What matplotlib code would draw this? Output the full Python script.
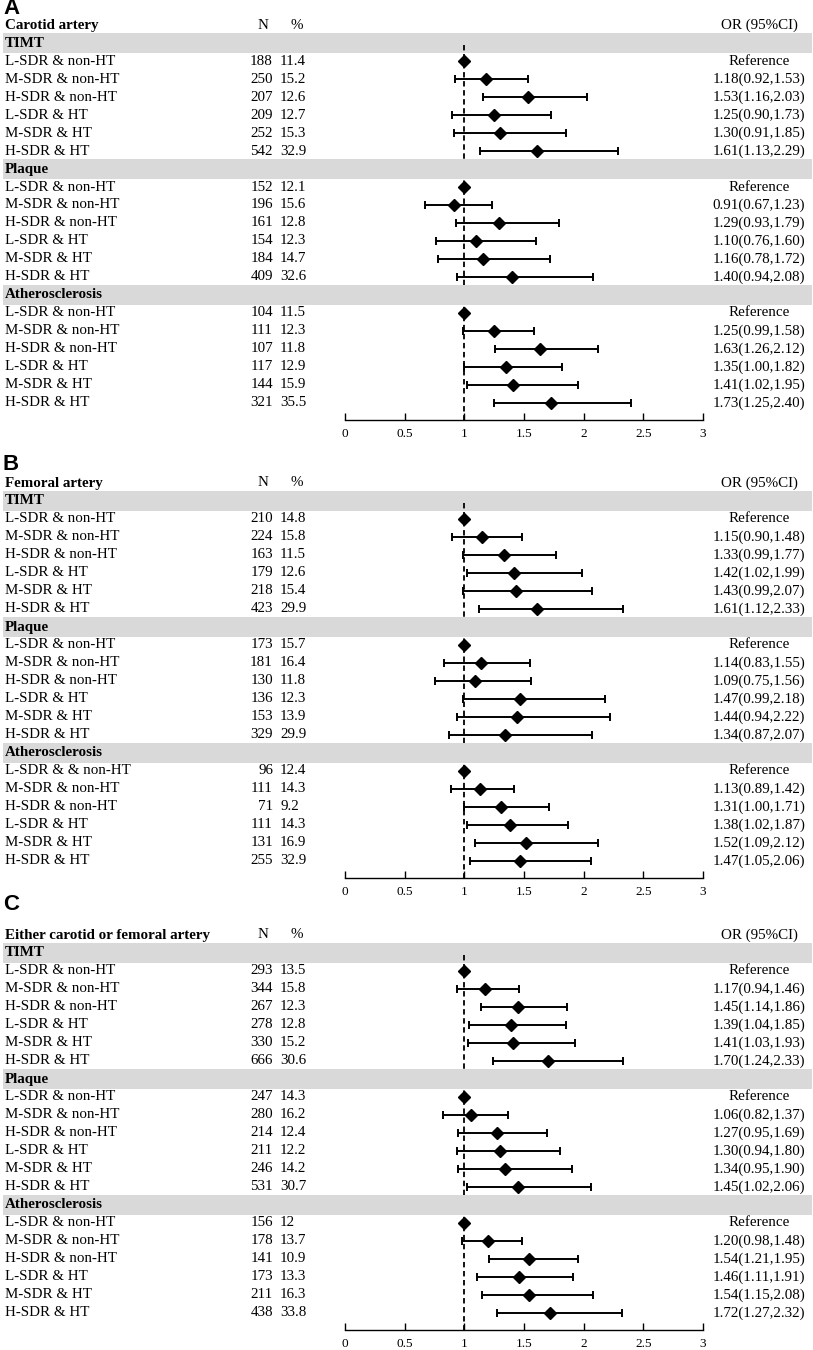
import matplotlib
matplotlib.use("Agg")
import matplotlib.pyplot as plt
from matplotlib.transforms import blended_transform_factory

# ---- data ----
groups = ["L-SDR & non-HT", "M-SDR & non-HT", "H-SDR & non-HT",
          "L-SDR & HT", "M-SDR & HT", "H-SDR & HT"]
sections = ["TIMT", "Plaque", "Atherosclerosis"]
panel_letters = ["A", "B", "C"]
panel_titles = ["Carotid artery", "Femoral artery", "Either carotid or femoral artery"]

# panel A (carotid)
a_n = [[188, 250, 207, 209, 252, 542], [152, 196, 161, 154, 184, 409], [104, 111, 107, 117, 144, 321]]
a_pct = [[11.4, 15.2, 12.6, 12.7, 15.3, 32.9], [12.1, 15.6, 12.8, 12.3, 14.7, 32.6], [11.5, 12.3, 11.8, 12.9, 15.9, 35.5]]
a_or = [[1, 1.18, 1.53, 1.25, 1.30, 1.61], [1, 0.91, 1.29, 1.10, 1.16, 1.40], [1, 1.25, 1.63, 1.35, 1.41, 1.73]]
a_lo = [[None, 0.92, 1.16, 0.90, 0.91, 1.13], [None, 0.67, 0.93, 0.76, 0.78, 0.94], [None, 0.99, 1.26, 1.00, 1.02, 1.25]]
a_hi = [[None, 1.53, 2.03, 1.73, 1.85, 2.29], [None, 1.23, 1.79, 1.60, 1.72, 2.08], [None, 1.58, 2.12, 1.82, 1.95, 2.40]]

# panel B (femoral)
b_n = [[210, 224, 163, 179, 218, 423], [173, 181, 130, 136, 153, 329], [96, 111, 71, 111, 131, 255]]
b_pct = [[14.8, 15.8, 11.5, 12.6, 15.4, 29.9], [15.7, 16.4, 11.8, 12.3, 13.9, 29.9], [12.4, 14.3, 9.2, 14.3, 16.9, 32.9]]
b_or = [[1, 1.15, 1.33, 1.42, 1.43, 1.61], [1, 1.14, 1.09, 1.47, 1.44, 1.34], [1, 1.13, 1.31, 1.38, 1.52, 1.47]]
b_lo = [[None, 0.90, 0.99, 1.02, 0.99, 1.12], [None, 0.83, 0.75, 0.99, 0.94, 0.87], [None, 0.89, 1.00, 1.02, 1.09, 1.05]]
b_hi = [[None, 1.48, 1.77, 1.99, 2.07, 2.33], [None, 1.55, 1.56, 2.18, 2.22, 2.07], [None, 1.42, 1.71, 1.87, 2.12, 2.06]]

# panel C (either)
c_n = [[293, 344, 267, 278, 330, 666], [247, 280, 214, 211, 246, 531], [156, 178, 141, 173, 211, 438]]
c_pct = [[13.5, 15.8, 12.3, 12.8, 15.2, 30.6], [14.3, 16.2, 12.4, 12.2, 14.2, 30.7], [12, 13.7, 10.9, 13.3, 16.3, 33.8]]
c_or = [[1, 1.17, 1.45, 1.39, 1.41, 1.70], [1, 1.06, 1.27, 1.30, 1.34, 1.45], [1, 1.20, 1.54, 1.46, 1.54, 1.72]]
c_lo = [[None, 0.94, 1.14, 1.04, 1.03, 1.24], [None, 0.82, 0.95, 0.94, 0.95, 1.02], [None, 0.98, 1.21, 1.11, 1.15, 1.27]]
c_hi = [[None, 1.46, 1.86, 1.85, 1.93, 2.33], [None, 1.37, 1.69, 1.80, 1.90, 2.06], [None, 1.48, 1.95, 1.91, 2.08, 2.32]]

# the femoral atherosclerosis block has a typo in the first label in the original
b_labels_fix = {(2, 0): "L-SDR & & non-HT"}

# ---- layout (pixels) ----
W, H = 813, 1350
pitch = 18.0
header_y = [25, 483, 935]
letter_y = [9, 465, 904]
x0_px, x3_px = 345, 703
ppu = (x3_px - x0_px) / 3.0

serif = "Liberation Serif"
fs = 10.8
band_col = "#d9d9d9"

fig = plt.figure(figsize=(W / 100, H / 100), dpi=100)

panels = [(a_n, a_pct, a_or, a_lo, a_hi, {}),
          (b_n, b_pct, b_or, b_lo, b_hi, b_labels_fix),
          (c_n, c_pct, c_or, c_lo, c_hi, {})]

for p, (n_, pct_, or_, lo_, hi_, fix) in enumerate(panels):
    top = header_y[p] - 0.5 * pitch
    bot = header_y[p] + 21.95 * pitch
    ax = fig.add_axes([0, 1 - bot / H, 1, (bot - top) / H])
    ax.set_xlim(-x0_px / ppu, (W - x0_px) / ppu)
    ax.set_ylim(21.95, -0.5)
    for s in ["top", "left", "right"]:
        ax.spines[s].set_visible(False)
    ax.spines["bottom"].set_bounds(0, 3)
    ax.spines["bottom"].set_linewidth(1.0)
    ax.set_yticks([])
    ax.set_xticks([0, 0.5, 1, 1.5, 2, 2.5, 3])
    ax.set_xticklabels(["0", "0.5", "1", "1.5", "2", "2.5", "3"], fontfamily=serif, fontsize=9.5)
    ax.tick_params(axis="x", direction="in", length=5, width=1.0, pad=6)
    ax.patch.set_visible(False)

    tr = blended_transform_factory(fig.transFigure, ax.transData)

    # header row
    ax.text(5 / W, 0, panel_titles[p], transform=tr, fontfamily=serif, fontsize=fs,
            fontweight="bold", va="center", ha="left")
    ax.text(263 / W, 0, "N", transform=tr, fontfamily=serif, fontsize=fs, va="center", ha="center")
    ax.text(297 / W, 0, "%", transform=tr, fontfamily=serif, fontsize=fs, va="center", ha="center")
    ax.text(759 / W, 0, "OR (95%CI)", transform=tr, fontfamily=serif, fontsize=fs, va="center", ha="center")

    # reference line at OR = 1
    ax.plot([1, 1], [1.1, 21.95], color="black", lw=1.3, ls=(0, (3, 2)), zorder=2)

    for k, sec in enumerate(sections):
        band_row = 1 + 7 * k
        ax.axhspan(band_row - 0.53, band_row + 0.53, xmin=3 / W, xmax=812 / W,
                   color=band_col, lw=0, zorder=1 if k == 0 else 3)
        ax.text(5 / W, band_row, sec, transform=tr, fontfamily=serif, fontsize=fs,
                fontweight="bold", va="center", ha="left", zorder=4)
        for i, g in enumerate(groups):
            r = band_row + 1 + i
            label = fix.get((k, i), g)
            ax.text(5 / W, r, label, transform=tr, fontfamily=serif, fontsize=fs, va="center", ha="left")
            ax.text(273 / W, r, str(n_[k][i]), transform=tr, fontfamily=serif, fontsize=fs,
                    va="center", ha="right")
            ax.text(280 / W, r, f"{pct_[k][i]:g}", transform=tr, fontfamily=serif, fontsize=fs,
                    va="center", ha="left")
            o, lo, hi = or_[k][i], lo_[k][i], hi_[k][i]
            if lo is None:
                txt = "Reference"
                ax.plot([o], [r], marker="D", ms=6, color="black", ls="none", zorder=5)
            else:
                txt = f"{o:.2f}({lo:.2f},{hi:.2f})"
                ax.errorbar([o], [r], xerr=[[o - lo], [hi - o]], fmt="D", ms=6, color="black",
                            ecolor="black", elinewidth=1.4, capsize=3, capthick=1.4, zorder=5)
            ax.text(759 / W, r, txt, transform=tr, fontfamily=serif, fontsize=fs, va="center", ha="center")

    fig.text(3 / W, 1 - letter_y[p] / H, panel_letters[p], fontfamily="Liberation Sans",
             fontweight="bold", fontsize=16, va="center", ha="left")

fig.savefig("out.png", dpi=100)
